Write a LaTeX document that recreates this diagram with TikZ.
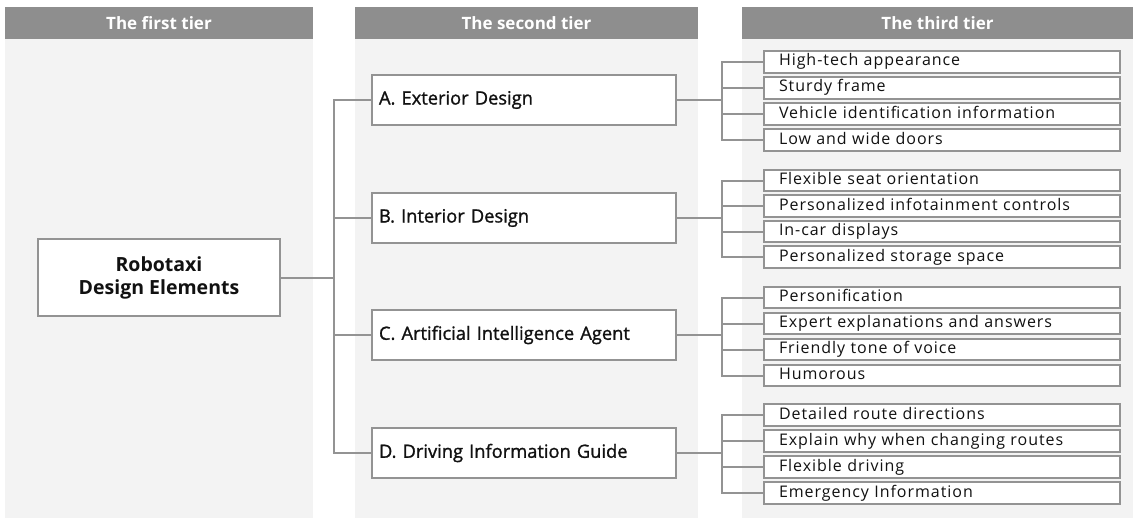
\documentclass[tikz,border=0pt]{standalone}
\usepackage{fontspec}
\setmainfont{Open Sans}
\newfontfamily\itemfont[LetterSpace=6]{Open Sans}
\newfontfamily\midfont[FakeBold=1.2]{Open Sans}
\definecolor{hdc}{HTML}{8E8E8E}
\definecolor{bgc}{HTML}{F3F3F3}
\definecolor{bdc}{HTML}{939393}
\definecolor{txc}{HTML}{111111}
\tikzset{
  hdtext/.style={text=white,font=\fontsize{17}{17}\selectfont\bfseries},
  rootbox/.style={draw=bdc,line width=2pt,fill=white,minimum width=242pt,minimum height=77pt,align=center,text=txc,font=\fontsize{19.5}{23}\selectfont\bfseries},
  midbox/.style={draw=bdc,line width=2pt,fill=white,minimum width=304pt,minimum height=50pt,inner xsep=7pt,text width=290pt,align=left,text=txc,font=\fontsize{18.3}{20}\selectfont\midfont},
  itembox/.style={draw=bdc,line width=1.6pt,fill=white,minimum width=356pt,minimum height=21.5pt,inner ysep=0pt,inner xsep=15pt,text width=326pt,align=left,text height=11pt,text depth=3pt,text=txc,font=\fontsize{16}{16}\selectfont\itemfont},
  conn/.style={draw=bdc,line width=2pt}
}
\begin{document}
\begin{tikzpicture}[x=1pt,y=-1pt]
\useasboundingbox (0,0) rectangle (1138,519);
\fill[white] (0,0) rectangle (1138,519);
% columns
\fill[bgc] (5,39) rectangle (313,518);
\fill[hdc] (5,7) rectangle (313,39);
\fill[bgc] (355,39) rectangle (698,518);
\fill[hdc] (355,7) rectangle (698,39);
\fill[bgc] (742,39) rectangle (1133,518);
\fill[hdc] (742,7) rectangle (1133,39);
\node[hdtext] (h1) at (159,23) {The first tier};
\node[hdtext] (h2) at (526.5,23) {The second tier};
\node[hdtext] (h3) at (937.5,23) {The third tier};
% root
\node[rootbox] (root) at (159,277.5) {Robotaxi\\Design Elements};
% second tier
\node[midbox] (A) at (524,100) {A. Exterior Design};
\node[midbox] (B) at (524,218) {B. Interior Design};
\node[midbox] (C) at (524,335) {C. Artificial Intelligence Agent};
\node[midbox] (D) at (524,453) {D. Driving Information Guide};
\coordinate (j0) at (334,277.5);
\draw[conn] (root.east) -- (j0);
\foreach \n in {A,B,C,D} { \draw[conn] (j0) |- (\n.west); }
% third tier
\foreach \p/\c in {A/100,B/218,C/335,D/453} {
  \coordinate (j\p) at (722,\c);
  \draw[conn] (\p.east) -- (j\p);
}
\node[itembox] (a1) at (942,62) {High-tech appearance};
\node[itembox] (a2) at (942,88) {Sturdy frame};
\node[itembox] (a3) at (942,114) {Vehicle identification information};
\node[itembox] (a4) at (942,140) {Low and wide doors};
\node[itembox] (b1) at (942,180.5) {Flexible seat orientation};
\node[itembox] (b2) at (942,206) {Personalized infotainment controls};
\node[itembox] (b3) at (942,231.5) {In-car displays};
\node[itembox] (b4) at (942,257) {Personalized storage space};
\node[itembox] (c1) at (942,297.5) {Personification};
\node[itembox] (c2) at (942,323.5) {Expert explanations and answers};
\node[itembox] (c3) at (942,349.5) {Friendly tone of voice};
\node[itembox] (c4) at (942,375.5) {Humorous};
\node[itembox] (d1) at (942,415) {Detailed route directions};
\node[itembox] (d2) at (942,441) {Explain why when changing routes};
\node[itembox] (d3) at (942,467) {Flexible driving};
\node[itembox] (d4) at (942,493) {Emergency Information};
\foreach \p/\q in {A/a,B/b,C/c,D/d} {
  \foreach \i in {1,2,3,4} { \draw[conn] (j\p) |- (\q\i.west); }
}
\end{tikzpicture}
\end{document}
